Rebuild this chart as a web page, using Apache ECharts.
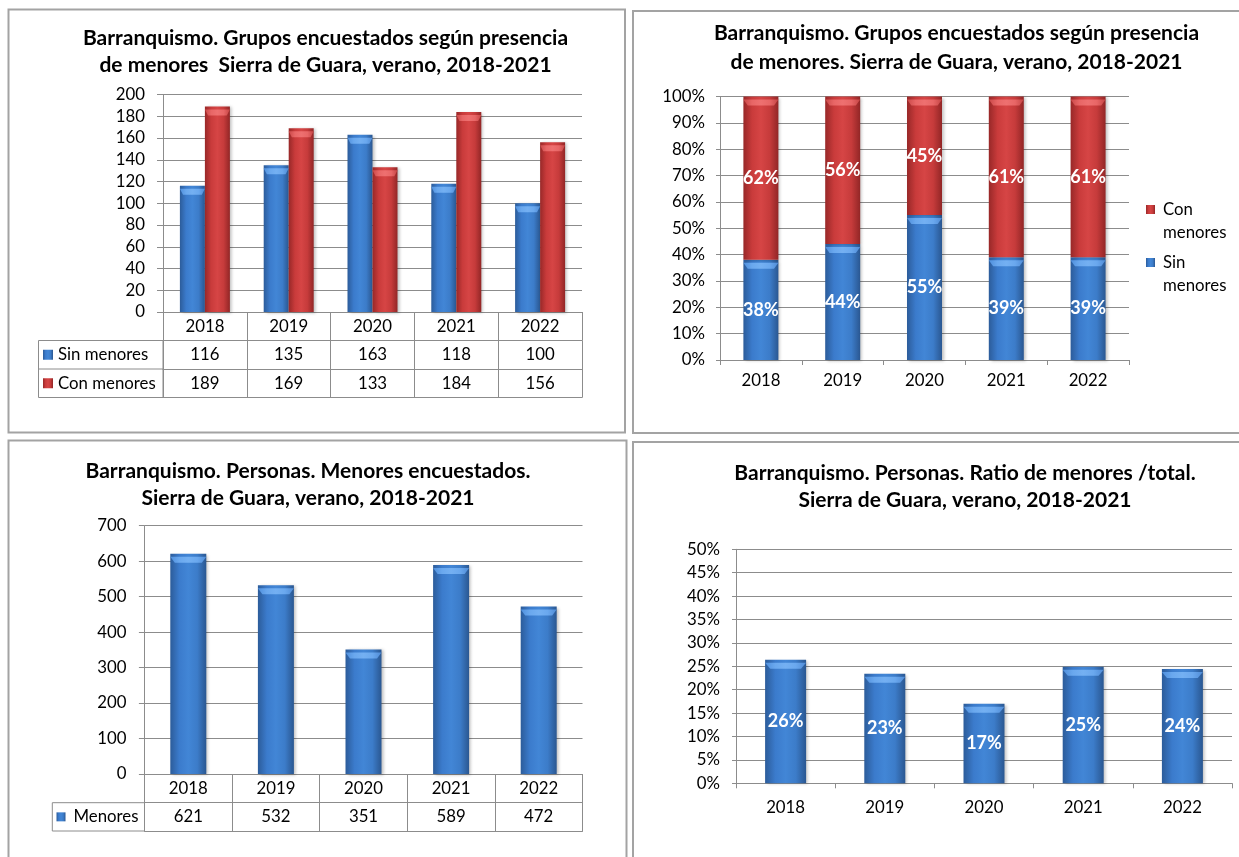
<!DOCTYPE html>
<html><head><meta charset="utf-8">
<script src="https://cdn.jsdelivr.net/npm/echarts@6/dist/echarts.min.js"></script>
<style>html,body{margin:0;padding:0;background:#fff}#c{width:1239px;height:857px}</style>
</head><body><div id="c"></div>
<script>
// ---- data ----
const years = ['2018', '2019', '2020', '2021', '2022'];
const sinMenores = [116, 135, 163, 118, 100];
const conMenores = [189, 169, 133, 184, 156];
const sinPct = [38, 44, 55, 39, 39];
const conPct = [62, 56, 45, 61, 61];
const totalPct = [100, 100, 100, 100, 100];
const menores = [621, 532, 351, 589, 472];
const ratio = [0.264, 0.234, 0.170, 0.249, 0.244];
const titles = [
  'Barranquismo. Grupos encuestados según presencia\nde menores  Sierra de Guara, verano, 2018-2021',
  'Barranquismo. Grupos encuestados según presencia\nde menores. Sierra de Guara, verano, 2018-2021',
  'Barranquismo. Personas. Menores encuestados.\nSierra de Guara, verano, 2018-2021',
  'Barranquismo. Personas. Ratio de menores /total.\nSierra de Guara, verano, 2018-2021'
];

// ---- styles ----
const FONT = 'Lato';
const GRAY = '#8c8c8c';
const BORDER = '#a3a3a3';
const FS = 16.8;
const lg = (stops) => new echarts.graphic.LinearGradient(0, 0, 1, 0, stops.map((c, i) => ({offset: i / (stops.length - 1), color: c})));
const BLUE = lg(['#2c5c9a', '#3b7bcc', '#4286d6', '#3c7cc9', '#2a5791']);
const RED = lg(['#982828', '#c93b3b', '#d64545', '#c63b3b', '#922626']);
const BLUE_CAP = lg(['#4f8fdc', '#6aa8ee', '#74b0f2', '#6aa8ee', '#4f8bd6']);
const RED_CAP = lg(['#c94848', '#e86666', '#ee7070', '#e86666', '#c44444']);
const txt = (size, extra) => Object.assign({fontFamily: FONT, fontSize: size, color: '#000'}, extra || {});
const shadow = {shadowBlur: 3, shadowColor: 'rgba(0,0,0,0.25)', shadowOffsetX: 2, shadowOffsetY: 1};

function titleOf(text, x, y, lh) {
  return {text: text, left: x, top: y, textAlign: 'center', textVerticalAlign: 'top', padding: 0,
    textStyle: txt(21, {fontWeight: 'bold', lineHeight: lh})};
}
function valueAxis(grid, max, interval, margin, tick, fmt) {
  return {gridIndex: grid, type: 'value', min: 0, max: max, interval: interval,
    axisLine: {show: true, lineStyle: {color: GRAY}},
    axisTick: {show: true, length: tick, lineStyle: {color: GRAY}},
    axisLabel: Object.assign(txt(FS), {margin: margin, formatter: fmt}),
    splitLine: {show: true, lineStyle: {color: GRAY, width: 1}}};
}
function tableAxis(grid, offset, rowH, values, showLabel) {
  return {gridIndex: grid, type: 'category', data: years, position: 'bottom', offset: offset,
    axisLine: {show: true, lineStyle: {color: GRAY}},
    axisTick: {show: rowH > 0, length: rowH, interval: 0, lineStyle: {color: GRAY}},
    axisLabel: Object.assign(txt(FS), {show: showLabel, interval: 0, margin: rowH / 2, verticalAlign: 'middle',
      formatter: (v, i) => values ? String(values[i]) : v}),
    splitLine: {show: false}};
}
function plainX(grid, margin) {
  return {gridIndex: grid, type: 'category', data: years, position: 'bottom',
    axisLine: {show: true, lineStyle: {color: GRAY}},
    axisTick: {show: true, length: 5, interval: 0, lineStyle: {color: GRAY}},
    axisLabel: Object.assign(txt(FS), {interval: 0, margin: margin, verticalAlign: 'middle'}),
    splitLine: {show: false}};
}
function legendOf(name, x, y, w, extra) {
  return Object.assign({data: [name], left: x, top: y, padding: 0, icon: 'rect', itemWidth: w, itemHeight: w,
    selectedMode: false, orient: 'vertical', textStyle: txt(FS, {lineHeight: 18})}, extra || {});
}
// lighter bevelled cap drawn at the top end of each bar
function cap(xIdx, yIdx, data, width, color, dx) {
  return {type: 'pictorialBar', xAxisIndex: xIdx, yAxisIndex: yIdx, data: data, silent: true,
    symbol: 'path://M0,0 L20,0 L17.5,6 L2.5,6 Z', symbolSize: [width, 6], symbolPosition: 'end',
    symbolOffset: [dx || 0, '50%'], itemStyle: {color: color}, z: 3, legendHoverLink: false};
}

const chart = echarts.init(document.getElementById('c'), null, {renderer: 'canvas', width: 1239, height: 857});

// two-line legend label: an empty first line keeps the icon level with the first word
const twoLine = n => '\n' + n.replace(' ', '\n');

const option = {
  animation: false,
  backgroundColor: '#fff',
  title: [
    titleOf(titles[0], 325.5, 25, 26.7),
    titleOf(titles[1], 956.5, 19.2, 28.4),
    titleOf(titles[2], 308, 458.4, 26.6),
    titleOf(titles[3], 965, 460, 26.7)
  ],
  legend: [
    legendOf('Sin menores', 43, 345.75, 10),
    legendOf('Con menores', 43, 374.25, 10),
    legendOf('Con menores', 1146, 175, 9, {formatter: twoLine,
      textStyle: txt(FS, {lineHeight: 23, padding: [0, 0, 0, 3]})}),
    legendOf('Sin menores', 1146, 228, 9, {formatter: twoLine,
      textStyle: txt(FS, {lineHeight: 23, padding: [0, 0, 0, 3]})}),
    legendOf('Menores', 56.5, 807.85, 9, {textStyle: txt(FS, {lineHeight: 18, padding: [0, 0, 0, 3]})})
  ],
  grid: [
    {left: 163, top: 94.5, width: 419, height: 217.5, outerBoundsMode: 'none'},
    {left: 720, top: 96.5, width: 409, height: 263.5, outerBoundsMode: 'none'},
    {left: 144.5, top: 525.7, width: 438, height: 248.3, outerBoundsMode: 'none'},
    {left: 736, top: 549.3, width: 496, height: 234, outerBoundsMode: 'none'}
  ],
  xAxis: [
    tableAxis(0, 0, 28.5, null, true),
    tableAxis(0, 28.5, 28.5, sinMenores, true),
    tableAxis(0, 57, 28.5, conMenores, true),
    tableAxis(0, 85.5, 0, null, false),
    plainX(1, 21),
    tableAxis(2, 0, 28.7, null, true),
    tableAxis(2, 28.7, 28.3, menores, true),
    tableAxis(2, 57, 0, null, false),
    plainX(3, 24.4)
  ],
  yAxis: [
    valueAxis(0, 200, 20, 18, 6, '{value}'),
    valueAxis(1, 100, 10, 15, 4, '{value}%'),
    valueAxis(2, 700, 100, 18, 5.6, '{value}'),
    valueAxis(3, 0.5, 0.05, 16, 4, v => Math.round(v * 100) + '%')
  ],
  series: [
    {name: 'Sin menores', type: 'bar', xAxisIndex: 0, yAxisIndex: 0, data: sinMenores, barWidth: 25, barGap: '0%',
      itemStyle: Object.assign({color: BLUE}, shadow)},
    {name: 'Con menores', type: 'bar', xAxisIndex: 0, yAxisIndex: 0, data: conMenores, barWidth: 25, barGap: '0%',
      itemStyle: Object.assign({color: RED}, shadow)},
    cap(0, 0, sinMenores, 25, BLUE_CAP, -12.5),
    cap(0, 0, conMenores, 25, RED_CAP, 12.5),
    {name: 'Sin menores', type: 'bar', xAxisIndex: 4, yAxisIndex: 1, data: sinPct, stack: 'p', barWidth: 35,
      itemStyle: Object.assign({color: BLUE}, shadow),
      label: {show: true, position: 'inside', formatter: '{c}%', fontFamily: FONT, fontWeight: 'bold', fontSize: 18, color: '#fff'}},
    {name: 'Con menores', type: 'bar', xAxisIndex: 4, yAxisIndex: 1, data: conPct, stack: 'p', barWidth: 35,
      itemStyle: Object.assign({color: RED}, shadow),
      label: {show: true, position: 'inside', formatter: '{c}%', fontFamily: FONT, fontWeight: 'bold', fontSize: 18, color: '#fff'}},
    cap(4, 1, sinPct, 35, BLUE_CAP),
    cap(4, 1, totalPct, 35, RED_CAP),
    {name: 'Menores', type: 'bar', xAxisIndex: 5, yAxisIndex: 2, data: menores, barWidth: 36,
      itemStyle: Object.assign({color: BLUE}, shadow)},
    cap(5, 2, menores, 36, BLUE_CAP),
    {name: 'Ratio', type: 'bar', xAxisIndex: 8, yAxisIndex: 3, data: ratio, barWidth: 41,
      itemStyle: Object.assign({color: BLUE}, shadow),
      label: {show: true, position: 'inside', formatter: p => Math.round(p.value * 100) + '%', fontFamily: FONT, fontWeight: 'bold', fontSize: 18, color: '#fff'}},
    cap(8, 3, ratio, 41, BLUE_CAP)
  ],
  graphic: [
    {type: 'rect', shape: {x: 8.5, y: 9.5, width: 616.5, height: 423}, style: {fill: 'none', stroke: BORDER, lineWidth: 2}, z: -10},
    {type: 'rect', shape: {x: 633, y: 11, width: 700, height: 422}, style: {fill: 'none', stroke: BORDER, lineWidth: 2}, z: -10},
    {type: 'rect', shape: {x: 8.5, y: 440.5, width: 618, height: 500}, style: {fill: 'none', stroke: BORDER, lineWidth: 2}, z: -10},
    {type: 'rect', shape: {x: 633, y: 442, width: 700, height: 500}, style: {fill: 'none', stroke: BORDER, lineWidth: 2}, z: -10},
    {type: 'rect', shape: {x: 38.5, y: 340.5, width: 124.5, height: 57}, style: {fill: 'none', stroke: GRAY, lineWidth: 1}},
    {type: 'line', shape: {x1: 38.5, y1: 369, x2: 163, y2: 369}, style: {stroke: GRAY, lineWidth: 1}},
    {type: 'rect', shape: {x: 52.3, y: 802.7, width: 92.2, height: 28.3}, style: {fill: 'none', stroke: GRAY, lineWidth: 1}}
  ]
};
chart.setOption(option);
</script>
</body></html>
